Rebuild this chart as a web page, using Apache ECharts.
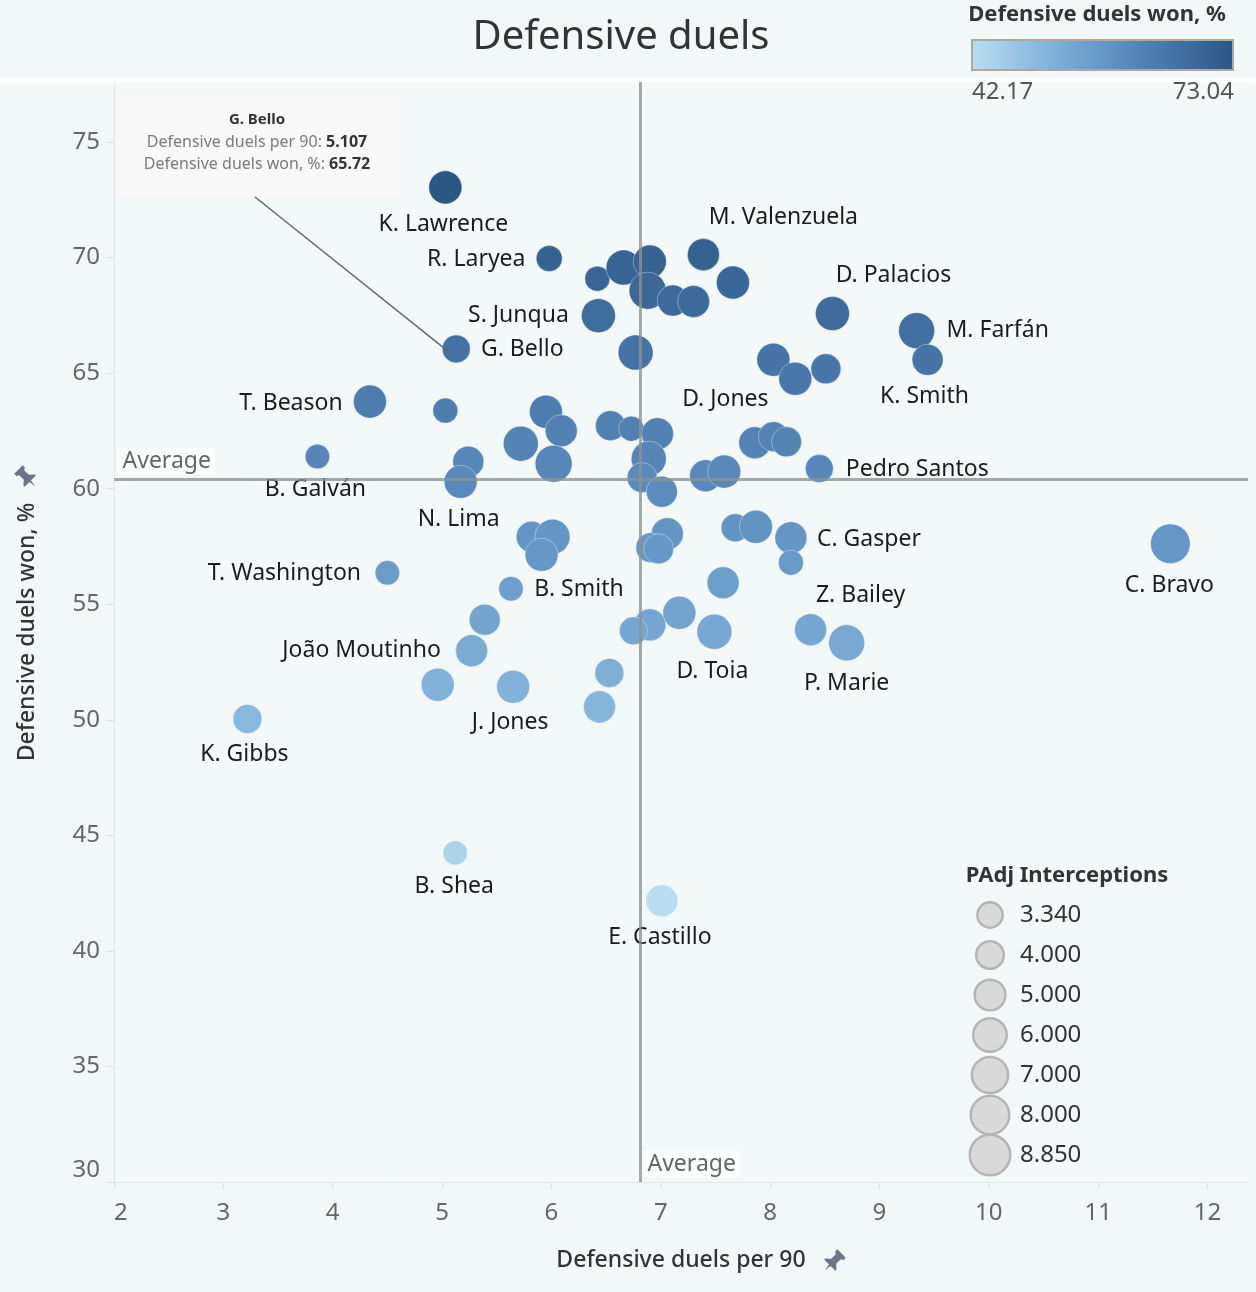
<!DOCTYPE html>
<html><head><meta charset="utf-8">
<script src="https://cdn.jsdelivr.net/npm/echarts@6/dist/echarts.min.js"></script>
<style>html,body{margin:0;padding:0;background:#f1f8f7;}#c{width:1256px;height:1292px;}</style>
</head><body><div id="c"></div>
<script>
// ---- data ----
const players = ['K. Lawrence','R. Laryea','','','','','','','M. Valenzuela','','S. Junqua','','G. Bello','D. Palacios','M. Farfán','K. Smith','D. Jones','','','T. Beason','','','','','','','','','','N. Lima','B. Galván','','','','','','','','','Pedro Santos','','','','T. Washington','B. Smith','','João Moutinho','','J. Jones','','','K. Gibbs','B. Shea','E. Castillo','','','','','','C. Gasper','','','','','','D. Toia','Z. Bailey','P. Marie','C. Bravo'];
const duelsPer90 = [5.03,5.98,6.42,6.66,6.90,6.88,7.11,7.30,7.39,7.66,6.43,6.77,5.13,8.57,9.34,9.44,8.03,8.23,8.51,4.34,5.03,5.95,6.09,6.54,6.73,6.97,5.72,6.02,5.24,5.17,3.86,6.89,6.83,7.01,7.86,8.03,8.15,7.41,7.58,8.45,5.82,6.01,5.91,4.50,5.63,5.39,5.27,4.96,5.65,6.53,6.44,3.22,5.12,7.01,7.06,6.91,6.98,7.68,7.87,8.19,8.19,7.57,7.17,6.90,6.75,7.49,8.37,8.70,11.66];
const duelsWonPct = [73.04,69.96,69.09,69.57,69.83,68.57,68.14,68.10,70.13,68.92,67.49,65.89,66.05,67.58,66.84,65.58,65.58,64.76,65.19,63.77,63.38,63.33,62.51,62.73,62.60,62.38,61.95,61.08,61.17,60.30,61.39,61.30,60.48,59.87,61.99,62.25,62.03,60.56,60.74,60.87,57.92,57.92,57.14,56.36,55.67,54.33,52.99,51.52,51.43,52.03,50.56,50.04,44.24,42.17,58.05,57.45,57.40,58.31,58.35,57.88,56.80,55.93,54.63,54.11,53.85,53.81,53.90,53.33,57.62];
const padjInterceptions = [6.16,3.82,3.53,6.92,6.16,7.74,5.43,5.79,5.79,6.16,6.53,6.92,4.43,6.53,7.33,5.43,6.16,6.16,5.09,6.16,3.53,6.16,5.79,5.09,3.53,5.79,6.92,7.74,5.43,6.16,3.40,6.92,5.09,5.43,5.79,5.09,5.09,5.79,6.16,4.43,5.43,6.92,6.16,3.40,3.40,5.43,5.79,6.16,6.16,4.75,5.79,4.75,3.34,5.79,5.79,5.09,5.09,4.43,6.16,5.79,3.53,5.79,6.16,5.79,4.43,6.92,5.79,7.33,8.85];
const xTickValues = [2,3,4,5,6,7,8,9,10,11,12];
const yTickValues = [30,35,40,45,50,55,60,65,70,75];
const avgDuelsPer90 = 6.81;
const avgDuelsWonPct = 60.40;
const colorScaleRange = [42.17, 73.04];
const sizeLegendValues = [3.34, 4, 5, 6, 7, 8, 8.85];
const sizeLegendLabels = ['3.340','4.000','5.000','6.000','7.000','8.000','8.850'];
const annotationName = 'G. Bello';
const annotationPer90 = '5.107';
const annotationWon = '65.72';

// ---- layout / style ----
const FONT = '"Noto Sans", "Open Sans", sans-serif';
const blues = ['#b9ddf1', '#8ab9de', '#6496c6', '#4775a8', '#2a5783'];
const sizeOf = v => 13.3 * Math.sqrt(v);
const labelOffsets = {
  'K. Lawrence':[-2,37], 'R. Laryea':[-73,1], 'M. Valenzuela':[80,-37], 'S. Junqua':[-80,0],
  'G. Bello':[66,1], 'D. Palacios':[61,-38], 'M. Farfán':[81,0], 'K. Smith':[-3,37],
  'D. Jones':[-48,40], 'T. Beason':[-79,2], 'Pedro Santos':[98,1], 'N. Lima':[-2,38],
  'B. Galván':[-2,33], 'T. Washington':[-103,1], 'B. Smith':[68,1], 'C. Gasper':[78,2],
  'Z. Bailey':[50,-34], 'João Moutinho':[-110,0], 'D. Toia':[-2,40], 'P. Marie':[0,41],
  'J. Jones':[-3,36], 'K. Gibbs':[-3,36], 'B. Shea':[-1,34], 'E. Castillo':[-2,37], 'C. Bravo':[-1,42]
};

const seriesData = players.map((n, i) => {
  const item = { name: n, value: [duelsPer90[i], duelsWonPct[i], padjInterceptions[i]] };
  if (n && labelOffsets[n]) {
    item.label = { show: true, position: 'inside', offset: labelOffsets[n], formatter: n,
      color: '#1c1c1c', fontSize: 23, fontFamily: FONT };
  }
  return item;
});

const chart = echarts.init(document.getElementById('c'), null, { renderer: 'canvas' });

// push-pin outline (pointing down), 24x24 box
const pinPts = [[6,0],[18,0],[18,3],[15.5,4.5],[15.5,11],[20,15],[20,16.5],[13,16.5],[12,24],[11,16.5],[4,16.5],[4,15],[8.5,11],[8.5,4.5],[6,3]];

function txt(x, y, text, font, fill, align, valign) {
  return { type: 'text', x, y, z: 50, style: { text, font, fill, textAlign: align || 'left', align: align || 'left',
    textVerticalAlign: valign || 'middle', verticalAlign: valign || 'middle' } };
}
function richLine(y, label, value) {
  return { type: 'text', z: 50, x: 257, y, style: { text: '{a|' + label + ' }{b|' + value + '}',
      textAlign: 'center', align: 'center', textVerticalAlign: 'middle', verticalAlign: 'middle',
      rich: { a: { font: '16px ' + FONT, fill: '#7a7a7a', color: '#7a7a7a' }, b: { font: 'bold 16px ' + FONT, fill: '#333333', color: '#333333' } } } };
}

const graphics = [
  { type: 'rect', shape: { x: 0, y: 78, width: 1256, height: 5 }, style: { fill: '#ffffff' }, z: 1 },
  txt(621, 38, 'Defensive duels', '40px ' + FONT, '#333333', 'center'),
  txt(1097, 15, 'Defensive duels won, %', 'bold 22px ' + FONT, '#333333', 'center'),
  { type: 'rect', z: 50, shape: { x: 972, y: 40, width: 261, height: 30 },
    style: { fill: new echarts.graphic.LinearGradient(0, 0, 1, 0, blues.map((c, i) => ({ offset: i / (blues.length - 1), color: c }))),
      stroke: '#a9a99f', lineWidth: 2 } },
  txt(972, 92, colorScaleRange[0].toFixed(2), '24px ' + FONT, '#555555', 'left'),
  txt(1234, 92, colorScaleRange[1].toFixed(2), '24px ' + FONT, '#555555', 'right'),
  txt(1067, 876, 'PAdj Interceptions', 'bold 22px ' + FONT, '#333333', 'center'),
  // pins
  { type: 'polygon', z: 50, x: 821, y: 1250, shape: { points: pinPts },
    originX: 12, originY: 12, rotation: -Math.PI / 4, style: { fill: '#6b7585' } },
  { type: 'polygon', z: 50, x: 15, y: 466, shape: { points: pinPts },
    originX: 12, originY: 12, rotation: Math.PI / 4, style: { fill: '#6b7585' } },
  // annotation box
  { type: 'rect', z: 40, shape: { x: 115, y: 95, width: 285, height: 102 }, style: { fill: 'rgba(248,248,248,0.95)' } },
  txt(257, 120, annotationName, 'bold 15px ' + FONT, '#333333', 'center'),
  richLine(142, 'Defensive duels per 90:', annotationPer90),
  richLine(164, 'Defensive duels won, %:', annotationWon)
];

sizeLegendValues.forEach((v, i) => {
  const cy = 915 + i * 40;
  graphics.push({ type: 'circle', z: 50, shape: { cx: 990, cy, r: sizeOf(v) / 2 + 0.5 },
    style: { fill: '#d9d9d9', stroke: '#b5b5b5', lineWidth: 2.5 } });
  graphics.push(txt(1020, cy, sizeLegendLabels[i], '24px ' + FONT, '#333333', 'left'));
});

const option = {
  backgroundColor: '#f1f8f7',
  animation: false,
  grid: { left: 114, right: 8, top: 82, bottom: 110, show: true, backgroundColor: '#f2f9f8', borderColor: 'transparent' },
  xAxis: {
    type: 'value', min: 2, max: 12.37, interval: 1,
    name: 'Defensive duels per 90', nameLocation: 'middle', nameGap: 67,
    nameTextStyle: { fontSize: 23, color: '#333', fontFamily: FONT, fontWeight: 500 },
    axisLine: { show: true, lineStyle: { color: '#e6e6e6', width: 1 } },
    axisTick: { show: true, length: 7, lineStyle: { color: '#e0e0e0' } },
    splitLine: { show: false },
    axisLabel: { fontSize: 24, color: '#666', fontFamily: FONT, margin: 19, showMaxLabel: false,
      alignMinLabel: 'left',
      formatter: v => (xTickValues.indexOf(v) >= 0 ? String(v) : '') }
  },
  yAxis: {
    type: 'value', min: 30, max: 77.6, interval: 5,
    name: 'Defensive duels won, %', nameLocation: 'middle', nameGap: 75, nameRotate: 90,
    nameTextStyle: { fontSize: 23, color: '#333', fontFamily: FONT, fontWeight: 500 },
    axisLine: { show: true, lineStyle: { color: '#e6e6e6', width: 1 } },
    axisTick: { show: true, length: 8, lineStyle: { color: '#e0e0e0' } },
    splitLine: { show: false },
    axisLabel: { fontSize: 24, color: '#666', fontFamily: FONT, margin: 14, showMaxLabel: false,
      padding: [9, 0, 0, 0], verticalAlignMinLabel: 'bottom',
      formatter: v => (yTickValues.indexOf(v) >= 0 ? String(v) : '') }
  },
  visualMap: {
    type: 'continuous', show: false, dimension: 1, seriesIndex: 0,
    min: colorScaleRange[0], max: colorScaleRange[1], inRange: { color: blues }
  },
  series: [{
    type: 'scatter',
    data: seriesData,
    symbolSize: v => sizeOf(v[2]),
    itemStyle: { opacity: 1, borderColor: 'rgba(255,255,255,0.35)', borderWidth: 1 },
    label: { show: false },
    markLine: {
      silent: true, symbol: 'none', animation: false, z: 5,
      lineStyle: { color: 'rgba(140,146,146,0.78)', width: 3, type: 'solid' },
      label: { show: false },
      data: [{ xAxis: avgDuelsPer90 }, { yAxis: avgDuelsWonPct }]
    },
    markPoint: {
      symbol: 'rect', symbolSize: 1, itemStyle: { color: 'rgba(0,0,0,0)' }, silent: true,
      label: { show: true, formatter: 'Average', fontSize: 23, color: '#666', fontFamily: FONT,
        backgroundColor: 'rgba(255,255,255,0.75)', padding: [2, 4, 1, 5] },
      data: [
        { coord: [2, avgDuelsWonPct], label: { position: 'right', distance: 3, offset: [0, -18] } },
        { coord: [avgDuelsPer90, 30], label: { position: 'right', distance: 2, offset: [0, -18] } }
      ]
    }
  }],
  graphic: graphics
};
chart.setOption(option);

// connector from the annotation box to its player
const bi = players.indexOf(annotationName);
const p = chart.convertToPixel({ gridIndex: 0 }, [duelsPer90[bi], duelsWonPct[bi]]);
graphics.push({ type: 'line', z: 45, shape: { x1: 255, y1: 197, x2: p[0] - 5, y2: p[1] + 5 },
  style: { stroke: '#666666', lineWidth: 1.5 } });
chart.setOption({ graphic: graphics });
</script></body></html>
